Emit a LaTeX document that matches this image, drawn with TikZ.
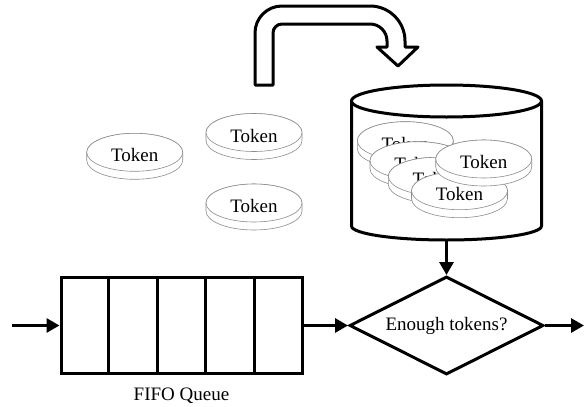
\documentclass[tikz,border=0pt]{standalone}
\usepackage{fontspec}
\setmainfont{Liberation Serif}
\usetikzlibrary{arrows.meta,shapes.geometric,calc}
\begin{document}
\begin{tikzpicture}[x=1pt,y=-1pt,
  thick line/.style={line width=3pt},
  flow/.style={line width=3pt,-{Triangle[length=13pt,width=14pt]}},
  txt/.style={font=\fontsize{19}{21}\selectfont, inner sep=0pt},
  discedge/.style={draw=black!45, line width=0.6pt, fill=white},
  tokendisc/.pic={
    % side band of the disc, then its top face and caption
    \path[discedge] (-48,0) -- (-48,8)
      arc[start angle=180,end angle=0,x radius=48,y radius=19] -- (48,0)
      arc[start angle=0,end angle=-180,x radius=48,y radius=19] -- cycle;
    \draw[discedge] (0,0) ellipse[x radius=48,y radius=19];
    \node[txt] (-text) at (0,3) {Token};
  }]
\useasboundingbox (0,0) rectangle (584,407);
\fill[white] (0,0) rectangle (584,407);

% curved block arrow feeding the bucket
\draw[thick line, fill=white, line join=round]
  (255,85) -- (255,33) arc[start angle=180,end angle=270,radius=27]
  -- (370,6) arc[start angle=270,end angle=360,radius=35]
  -- (405,47) -- (418,47) -- (398,66) -- (377,47) -- (387,47) -- (387,41)
  arc[start angle=0,end angle=-90,radius=17]
  -- (282,24) arc[start angle=270,end angle=180,radius=9]
  -- (273,85) -- cycle;

% loose tokens
\pic (tokL) at (134.7,152.3) {tokendisc};
\pic (tokT) at (254,132.5) {tokendisc};
\pic (tokB) at (254,203) {tokendisc};

% token bucket
\draw[thick line, fill=white] (351.5,101) -- (351.5,226)
  arc[start angle=180,end angle=0,x radius=95,y radius=14] -- (541.5,101);
\draw[thick line, fill=white] (446.5,101) ellipse[x radius=95,y radius=16];
\coordinate (tankbase) at (446.5,240);

% tokens stacked in the bucket
\pic (tokA) at (405.3,140.7) {tokendisc};
\pic (tokBb) at (418,160.7) {tokendisc};
\pic (tokC) at (436.3,176.3) {tokendisc};
\pic (tokE) at (459.5,190.7) {tokendisc};
\pic (tokD) at (483.7,159) {tokendisc};

% FIFO queue
\node[draw, thick line, minimum width=241pt, minimum height=96pt, inner sep=0pt]
  (queue) at (181.5,325.5) {};
\foreach \k in {1,...,4}
  \draw[thick line] ($(queue.north west)!\k/5!(queue.north east)$)
    -- ($(queue.south west)!\k/5!(queue.south east)$);
\node[txt, anchor=base] (qlabel) at (181.5,400) {FIFO Queue};

% decision
\node[draw, thick line, diamond, aspect=2, minimum width=194pt,
  minimum height=98pt, txt] (check) at (446.5,325.5) {Enough tokens?};

% connectors
\coordinate (entry) at (12,325.5);
\coordinate (exit) at (584,325.5);
\draw[flow] (entry) -- (queue.west);
\draw[flow] (queue.east) -- (check.west);
\draw[flow] (check.east) -- (exit);
\draw[flow] (tankbase) -- (check.north);
\end{tikzpicture}
\end{document}
